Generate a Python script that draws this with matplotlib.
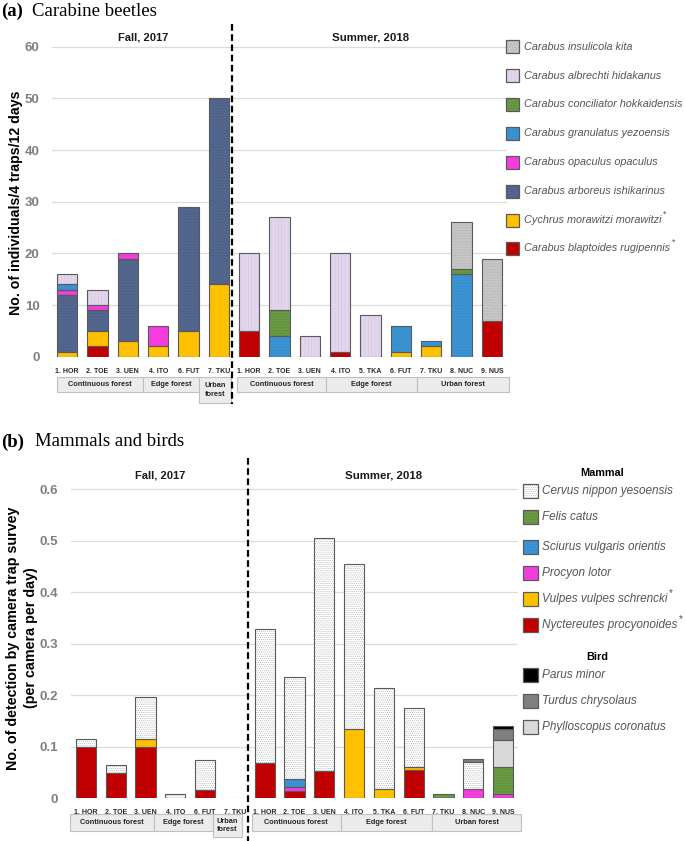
import matplotlib
matplotlib.use('Agg')
import matplotlib.pyplot as plt
from matplotlib.patches import Rectangle
from matplotlib.lines import Line2D
import matplotlib.transforms as mtransforms
import numpy as np

W, H = 685, 841
SANS = ['Liberation Sans', 'DejaVu Sans']
SERIF = ['Liberation Serif', 'DejaVu Serif']
plt.rcParams['hatch.linewidth'] = 0.35

# ---------------- data ----------------
sites = ['1. HOR', '2. TOE', '3. UEN', '4. ITO', '6. FUT', '7. TKU',
         '1. HOR', '2. TOE', '3. UEN', '4. ITO', '5. TKA', '6. FUT', '7. TKU', '8. NUC', '9. NUS']
season_labels = ['Fall, 2017', 'Summer, 2018']

# (a) carabine beetles, stacked bottom -> top
blaptoides  = [0, 2, 0, 0, 0, 0,       5, 0, 0, 1, 0, 0, 0, 0, 7]
cychrus     = [1, 3, 3, 2, 5, 14,      0, 0, 0, 0, 0, 1, 2, 0, 0]
arboreus    = [11, 4, 16, 0, 24, 36,   0, 0, 0, 0, 0, 0, 0, 0, 0]
opaculus    = [1, 1, 1, 4, 0, 0,       0, 0, 0, 0, 0, 0, 0, 0, 0]
granulatus  = [1, 0, 0, 0, 0, 0,       0, 4, 0, 0, 0, 5, 1, 16, 0]
conciliator = [0, 0, 0, 0, 0, 0,       0, 5, 0, 0, 0, 0, 0, 1, 0]
albrechti   = [2, 3, 0, 0, 0, 0,       15, 18, 4, 19, 8, 0, 0, 0, 0]
insulicola  = [0, 0, 0, 0, 0, 0,       0, 0, 0, 0, 0, 0, 0, 9, 12]

# (b) mammals and birds, stacked bottom -> top
nyctereutes  = [0.100, 0.050, 0.100, 0, 0.016, 0,  0.069, 0.014, 0.053, 0, 0, 0.055, 0, 0, 0]
vulpes       = [0, 0, 0.015, 0, 0, 0,              0, 0, 0, 0.134, 0.018, 0.006, 0, 0, 0]
procyon      = [0, 0, 0, 0, 0, 0,                  0, 0.007, 0, 0, 0, 0, 0, 0.018, 0.008]
sciurus      = [0, 0, 0, 0, 0, 0,                  0, 0.016, 0, 0, 0, 0, 0, 0, 0]
felis        = [0, 0, 0, 0, 0, 0,                  0, 0, 0, 0, 0, 0, 0.008, 0, 0.053]
cervus       = [0.015, 0.015, 0.082, 0.008, 0.058, 0,  0.260, 0.199, 0.452, 0.321, 0.197, 0.115, 0, 0.052, 0]
phylloscopus = [0, 0, 0, 0, 0, 0,                  0, 0, 0, 0, 0, 0, 0, 0, 0.053]
turdus       = [0, 0, 0, 0, 0, 0,                  0, 0, 0, 0, 0, 0, 0, 0.006, 0.021]
parus        = [0, 0, 0, 0, 0, 0,                  0, 0, 0, 0, 0, 0, 0, 0, 0.005]

yticks_a = [0, 10, 20, 30, 40, 50, 60]
yticks_b = [0, 0.1, 0.2, 0.3, 0.4, 0.5, 0.6]
yticklabels_b = ['0', '0.1', '0.2', '0.3', '0.4', '0.5', '0.6']

# (name, values, face, hatch, hatchcolor)
series_a = [
    ('Carabus blaptoides rugipennis', blaptoides, '#c00000', None, None),
    ('Cychrus morawitzi morawitzi', cychrus, '#ffc000', None, None),
    ('Carabus arboreus ishikarinus', arboreus, '#52668e', '......', '#48597e'),
    ('Carabus opaculus opaculus', opaculus, '#f73fe0', '......', '#e62fd4'),
    ('Carabus granulatus yezoensis', granulatus, '#3c93d4', '......', '#3384c6'),
    ('Carabus conciliator hokkaidensis', conciliator, '#6a9a42', '......', '#557f33'),
    ('Carabus albrechti hidakanus', albrechti, '#e2d6ec', '|||||', '#d2c3e0'),
    ('Carabus insulicola kita', insulicola, '#c6c6c6', '......', '#acacac'),
]
legend_a = ['Carabus insulicola kita', 'Carabus albrechti hidakanus',
            'Carabus conciliator hokkaidensis', 'Carabus granulatus yezoensis',
            'Carabus opaculus opaculus', 'Carabus arboreus ishikarinus',
            'Cychrus morawitzi morawitzi', 'Carabus blaptoides rugipennis']
starred = ['Cychrus morawitzi morawitzi', 'Carabus blaptoides rugipennis',
           'Vulpes vulpes schrencki', 'Nyctereutes procyonoides']

series_b = [
    ('Nyctereutes procyonoides', nyctereutes, '#c00000', None, None),
    ('Vulpes vulpes schrencki', vulpes, '#ffc000', None, None),
    ('Procyon lotor', procyon, '#f73fe0', '......', '#e62fd4'),
    ('Sciurus vulgaris orientis', sciurus, '#3c93d4', '......', '#3384c6'),
    ('Felis catus', felis, '#6a9a42', '......', '#557f33'),
    ('Cervus nippon yesoensis', cervus, '#ffffff', '........', '#a6a6a6'),
    ('Phylloscopus coronatus', phylloscopus, '#d9d9d9', None, None),
    ('Turdus chrysolaus', turdus, '#808080', None, None),
    ('Parus minor', parus, '#000000', None, None),
]
legend_b_mammal = ['Cervus nippon yesoensis', 'Felis catus', 'Sciurus vulgaris orientis',
                   'Procyon lotor', 'Vulpes vulpes schrencki', 'Nyctereutes procyonoides']
legend_b_bird = ['Parus minor', 'Turdus chrysolaus', 'Phylloscopus coronatus']

# ---------------- figure ----------------
fig = plt.figure(figsize=(W / 100, H / 100), dpi=100)


def fx(x):
    return x / W


def fy(y):
    return 1 - y / H


def make_axes(left, right, top, y0, ytop_val, ytop_px):
    ax = fig.add_axes([fx(left), fy(y0), (right - left) / W, (y0 - top) / H])
    ax.set_xlim(-0.5, 14.5)
    ax.set_ylim(0, ytop_val * (y0 - top) / (y0 - ytop_px))
    for s in ax.spines.values():
        s.set_visible(False)
    ax.set_axisbelow(True)
    ax.yaxis.grid(True, color='#dcdcdc', lw=0.9)
    return ax


axA = make_axes(52, 507, 25, 356.7, 60, 46.7)
axB = make_axes(71, 518, 458, 798.3, 0.6, 489.3)

x = np.arange(len(sites))
bw = 0.68


def draw_stack(ax, series):
    bottom = np.zeros(len(sites))
    for name, vals, face, hatch, hc in series:
        v = np.asarray(vals, dtype=float)
        m = v > 0
        if m.any():
            if hatch:
                ax.bar(x[m], v[m], bw, bottom=bottom[m], color=face, hatch=hatch,
                       edgecolor=hc, lw=0, zorder=2)
            else:
                ax.bar(x[m], v[m], bw, bottom=bottom[m], color=face, lw=0, zorder=2)
            ax.bar(x[m], v[m], bw, bottom=bottom[m], fill=False,
                   edgecolor='#5a5a5a', lw=0.8, zorder=3)
        bottom += v


draw_stack(axA, series_a)
draw_stack(axB, series_b)

# y ticks
axA.set_yticks(yticks_a)
axA.set_yticklabels([str(t) for t in yticks_a])
axB.set_yticks(yticks_b)
axB.set_yticklabels(yticklabels_b)
for ax, pad in ((axA, 9), (axB, 9.5)):
    ax.tick_params(axis='y', length=0, pad=pad, labelsize=9.5, labelcolor='#7f7f7f')
    for lab in ax.get_yticklabels():
        lab.set_family(SANS)
        lab.set_fontweight('bold')
    ax.set_xticks(x)
    ax.set_xticklabels(sites, family=SANS, fontweight='bold', fontsize=5.0, color='#262626')
    ax.tick_params(axis='x', length=0, pad=8)

# group boxes
groups_a = [('Continuous forest', -0.35, 2.5, 0), ('Edge forest', 2.5, 4.35, 0),
            ('Urban\nforest', 4.35, 5.4, 1),
            ('Continuous forest', 5.6, 8.52, 0), ('Edge forest', 8.52, 11.52, 0),
            ('Urban forest', 11.52, 14.55, 0)]
groups_b = [('Continuous forest', -0.55, 2.3, 0), ('Edge forest', 2.3, 4.25, 0),
            ('Urban\nforest', 4.25, 5.25, 1),
            ('Continuous forest', 5.56, 8.56, 0), ('Edge forest', 8.56, 11.62, 0),
            ('Urban forest', 11.62, 14.6, 0)]


def draw_groups(ax, groups, top, bot1, bot2):
    tr = mtransforms.blended_transform_factory(ax.transData, fig.transFigure)
    for label, a, b, two in groups:
        bot = bot2 if two else bot1
        r = Rectangle((a, fy(bot)), b - a, (bot - top) / H, transform=tr,
                      facecolor='#ececec', edgecolor='#c0c0c0', lw=0.8, clip_on=False)
        fig.add_artist(r)
        fig.text((a + b) / 2, fy((top + bot) / 2), label, transform=tr, family=SANS,
                 fontweight='bold', fontsize=5.3, color='#262626', ha='center',
                 va='center', linespacing=1.3)


draw_groups(axA, groups_a, 377, 392, 403)
draw_groups(axB, groups_b, 814, 831, 837)

# dashed separators
for ax, y0, y1 in ((axA, 24, 404), (axB, 458, 841)):
    tr = mtransforms.blended_transform_factory(ax.transData, fig.transFigure)
    fig.add_artist(Line2D([5.45, 5.45], [fy(y0), fy(y1)], transform=tr, color='black',
                          lw=1.6, ls=(0, (3, 1.6)), clip_on=False))

# season headers
for ax, y in ((axA, 37), (axB, 475.5)):
    tr = mtransforms.blended_transform_factory(ax.transData, fig.transFigure)
    fig.text(2.5, fy(y), season_labels[0], transform=tr, family=SANS, fontweight='bold',
             fontsize=8, ha='center', va='center', color='#1a1a1a')
    fig.text(10.0, fy(y), season_labels[1], transform=tr, family=SANS, fontweight='bold',
             fontsize=8.2, ha='center', va='center', color='#1a1a1a')

# y labels
fig.text(fx(16), fy(203), 'No. of individuals/4 traps/12 days', rotation=90,
         family=SANS, fontweight='bold', fontsize=10.2, ha='center', va='center')
fig.text(fx(22), fy(638), 'No. of detection by camera trap survey\n(per camera per day)',
         rotation=90, family=SANS, fontweight='bold', fontsize=10.3, ha='center',
         va='center', linespacing=1.3)

# panel titles
fig.text(fx(1), fy(11), '(a)', family=SERIF, fontweight='bold', fontsize=13.5,
         va='center', ha='left')
fig.text(fx(32), fy(11), 'Carabine beetles', family=SERIF, fontsize=13.5,
         va='center', ha='left')
fig.text(fx(1), fy(442), '(b)', family=SERIF, fontweight='bold', fontsize=13.5,
         va='center', ha='left')
fig.text(fx(35), fy(442), 'Mammals and birds', family=SERIF, fontsize=13.5,
         va='center', ha='left')

# legends
style_a = {s[0]: s for s in series_a}
style_b = {s[0]: s for s in series_b}
renderer = fig.canvas.get_renderer()


def legend_entry(name, style, px, py, pw, ph, tx, fs):
    _, _, face, hatch, hc = style
    if hatch:
        fig.add_artist(Rectangle((fx(px), fy(py + ph / 2)), pw / W, ph / H,
                                 transform=fig.transFigure, facecolor=face,
                                 hatch=hatch, edgecolor=hc, lw=0))
    else:
        fig.add_artist(Rectangle((fx(px), fy(py + ph / 2)), pw / W, ph / H,
                                 transform=fig.transFigure, facecolor=face, lw=0))
    fig.add_artist(Rectangle((fx(px), fy(py + ph / 2)), pw / W, ph / H,
                             transform=fig.transFigure, fill=False,
                             edgecolor='#5a5a5a', lw=0.9))
    t = fig.text(fx(tx), fy(py), name, family=SANS, style='italic',
                 fontsize=fs, color='#555555', va='center', ha='left')
    if name in starred:
        bb = t.get_window_extent(renderer=renderer)
        fig.text((bb.x1 + 1.5) / W, fy(py - 6), '*', family=SANS, fontsize=fs * 0.85,
                 color='#555555', va='center', ha='left')


ys_a = [46.7, 75.7, 104, 133, 162, 191, 220, 248]
for name, yy in zip(legend_a, ys_a):
    legend_entry(name, style_a[name], 506, yy, 13, 13, 524, 7.8)

fig.text(fx(602), fy(473), 'Mammal', family=SANS, fontweight='bold', fontsize=7.8,
         ha='center', va='center')
ys_m = [491, 517.3, 546.7, 573.3, 599.3, 625]
for name, yy in zip(legend_b_mammal, ys_m):
    legend_entry(name, style_b[name], 523, yy, 15, 14, 541.7, 8.5)
fig.text(fx(597), fy(656.7), 'Bird', family=SANS, fontweight='bold', fontsize=7.8,
         ha='center', va='center')
ys_bd = [675, 701, 726.7]
for name, yy in zip(legend_b_bird, ys_bd):
    legend_entry(name, style_b[name], 523, yy, 15, 14, 541.7, 8.5)

fig.savefig('out.png', dpi=100)
